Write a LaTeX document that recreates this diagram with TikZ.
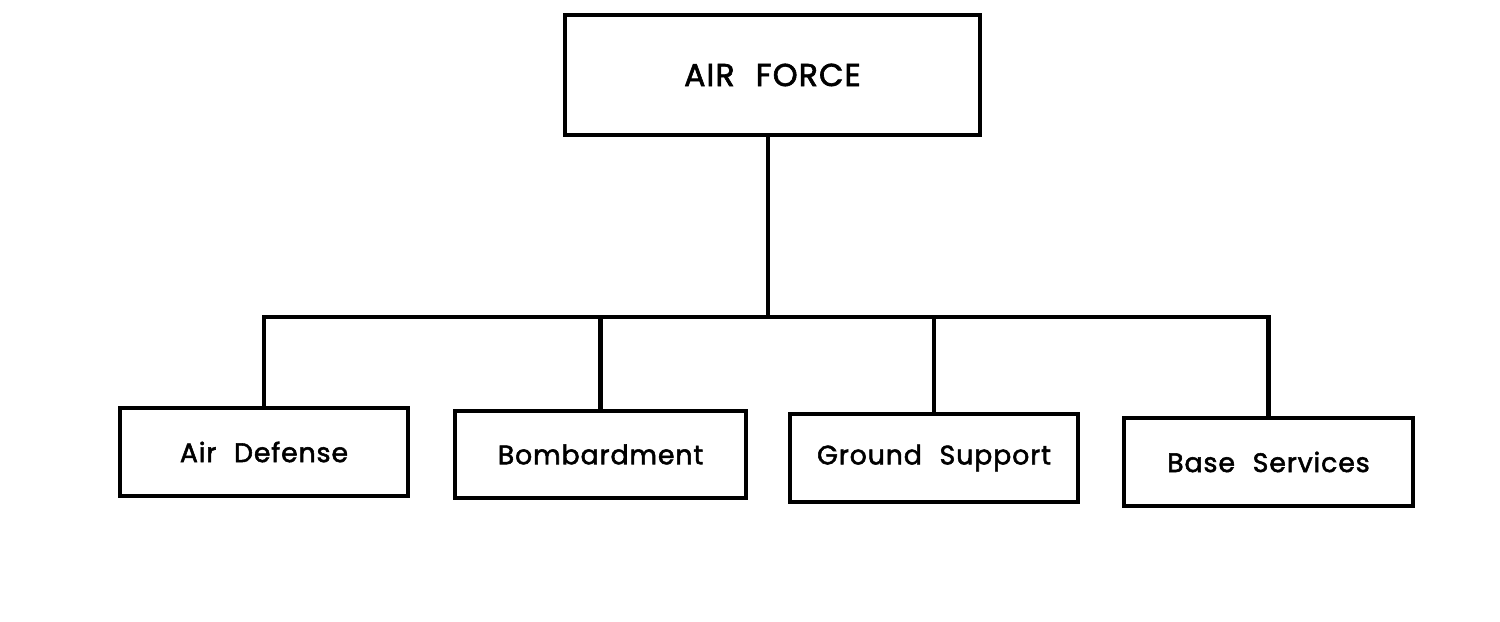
\documentclass[tikz,border=0pt]{standalone}
\usepackage{fontspec}
\setmainfont{Poppins}[LetterSpace=3.5, WordSpace=2.2, FakeBold=2]
\begin{document}
\begin{tikzpicture}[
  box/.style={draw=black, line width=1.3pt, fill=white, inner sep=0pt, align=center, font=\fontsize{7.6}{9}\selectfont},
  link/.style={draw=black, line width=1.3pt}
]
\useasboundingbox (0,0) rectangle (15,6.22);
\node[box, minimum width=4.15cm, minimum height=1.2cm, font=\fontsize{9}{11}\selectfont] (af) at (7.725,5.47) {AIR FORCE};
\node[box, minimum width=2.88cm, minimum height=0.88cm] (ad) at (2.64,1.70) {Air Defense};
\node[box, minimum width=2.91cm, minimum height=0.87cm] (bo) at (6.005,1.675) {Bombardment};
\node[box, minimum width=2.88cm, minimum height=0.88cm] (gs) at (9.34,1.64) {Ground Support};
\node[box, minimum width=2.89cm, minimum height=0.88cm] (bs) at (12.685,1.60) {Base Services};
\coordinate (bus) at (7.68,3.05);
\draw[link] (af.south -| bus) -- (bus);
\draw[link] (ad.north) -- (ad.north |- bus) -- (bs.north |- bus) -- (bs.north);
\draw[link] (bo.north) -- (bo.north |- bus);
\draw[link] (gs.north) -- (gs.north |- bus);
\end{tikzpicture}
\end{document}
